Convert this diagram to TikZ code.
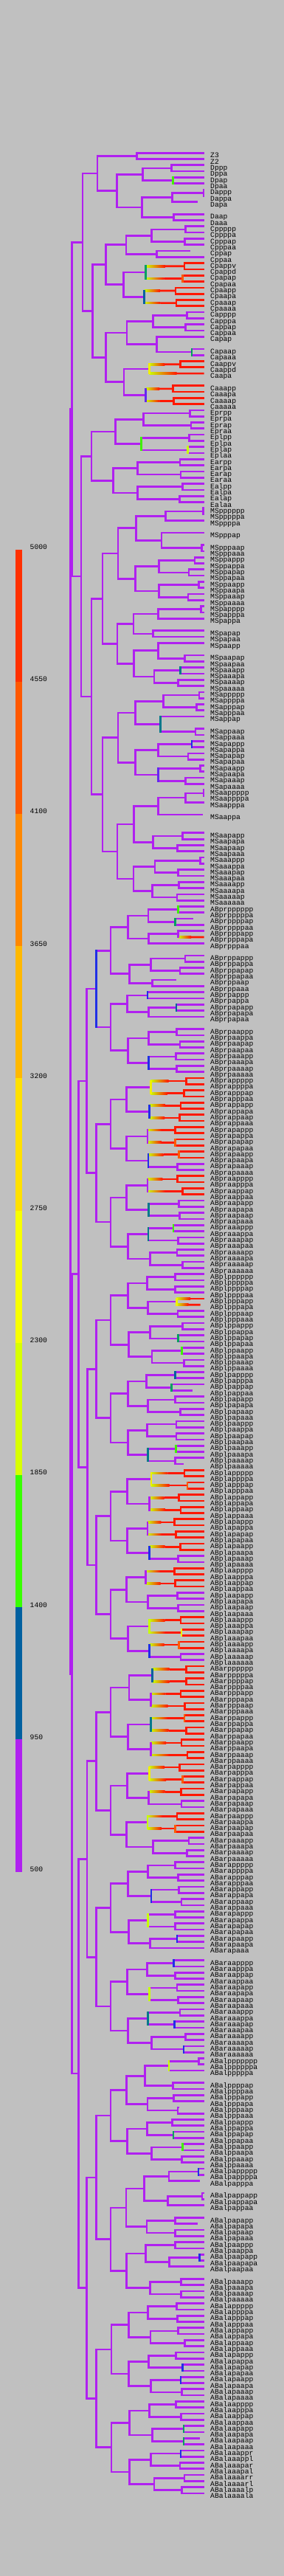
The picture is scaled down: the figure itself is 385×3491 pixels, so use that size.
\documentclass[tikz,border=0pt]{standalone}
\usepackage{fontspec}
\setmonofont{Liberation Mono}
\usetikzlibrary{calc}

\definecolor{bgc}{RGB}{192,192,192}
\definecolor{cpu}{RGB}{176,32,240}
\definecolor{crd}{RGB}{255,24,0}
\definecolor{cor}{RGB}{255,90,0}
\definecolor{cyl}{RGB}{240,240,0}
\definecolor{cyg}{RGB}{200,255,0}
\definecolor{cgn}{RGB}{64,240,0}
\definecolor{ctl}{RGB}{0,160,96}
\definecolor{cbl}{RGB}{0,96,160}
\definecolor{cbb}{RGB}{32,48,230}
\definecolor{ctt}{RGB}{0,120,140}
\definecolor{cvb}{RGB}{100,40,240}
\definecolor{lga}{RGB}{255,48,0}
\definecolor{lgb}{RGB}{255,88,0}
\definecolor{lgc}{RGB}{255,136,0}
\definecolor{lgd}{RGB}{255,184,0}
\definecolor{lge}{RGB}{255,224,0}
\definecolor{lgf}{RGB}{248,255,0}
\definecolor{lgg}{RGB}{216,255,0}
\definecolor{lgh}{RGB}{56,255,0}
\definecolor{lgi}{RGB}{0,96,160}
\definecolor{lgj}{RGB}{176,32,240}

\tikzset{
  br/.style={draw=cpu, line width=2.7pt},
  vt/.style={line width=2.7pt, line cap=rect},
  lbl/.style={anchor=base west, inner sep=0pt, text=black,
    font=\ttfamily\fontsize{9.7}{10}\selectfont}
}

\newtoks\vtoks
% leaf: [incoming style]{name}{slot}[end x]
\NewDocumentCommand\lfc{O{p} m m O{276.7}}{%
  \pgfmathsetmacro\yy{207.2+8.303*#3}%
  \expandafter\xdef\csname cy-#2\endcsname{\yy}%
  \expandafter\xdef\csname cs-#2\endcsname{#1}%
  \coordinate (#2) at (#4,\yy);
  \node[lbl] (t-#2) at (285,{\yy+6.7}) {#2};
}
% division: [incoming style][vertical colour]{name}{x}{upper}{lower}
\NewDocumentCommand\dvc{O{p} O{cpu} m m m m}{%
  \pgfmathsetmacro\yy{(\csname cy-#5\endcsname+\csname cy-#6\endcsname)/2}%
  \expandafter\xdef\csname cy-#3\endcsname{\yy}%
  \expandafter\xdef\csname cs-#3\endcsname{#1}%
  \coordinate (#3) at (#4,\yy);
  \hzc{#5}{#3}\hzc{#6}{#3}%
  \global\vtoks\expandafter{\the\vtoks\draw[vt,draw=#2] (#5 -| #3) -- (#6 -| #3);}%
}
\newcommand\hzc[2]{\csname hz\csname cs-#1\endcsname\endcsname{#1}{#2}}
\newcommand\hzp[2]{\draw[br] (#1 -| #2) -- (#1);}
\newcommand\hzr[2]{\draw[br,draw=crd] (#1 -| #2) -- (#1);}
\newcommand\hzg[2]{%
  \coordinate (h0) at (#1 -| #2);
  \coordinate (h1) at ($(h0)!0.5!(#1)$);
  \path[left color=cyg, right color=crd] ([yshift=1.35pt]h0) rectangle ([yshift=-1.35pt]h1);
  \draw[br,draw=crd] (h1) -- (#1);
}

\begin{document}
\begin{tikzpicture}[x=1pt,y=-1pt]
\fill[bgc] (0,0) rectangle (385,3491);
\path[use as bounding box] (0,0) rectangle (385,3491);

% colour key
\foreach \c [count=\i from 0] in {lga,lgb,lgc,lgd,lge,lgf,lgg,lgh,lgi,lgj}
  \fill[\c] (21,{744.5+179.2*\i}) rectangle (30,{744.5+179.2*(\i+1)});
\foreach \v [count=\i from 0] in {5000,4550,4100,3650,3200,2750,2300,1850,1400,950,500}
  \node[lbl] (v\v) at (40.5,{744.5+179.2*\i}) {\v};

% P4 and D
\lfc{Z3}{0}\lfc{Z2}{1}\dvc{P4}{185.7}{Z3}{Z2}
\lfc{Dppp}{2}\lfc{Dppa}{3}\dvc{Dpp}{232.3}{Dppp}{Dppa}
\lfc{Dpap}{4}\lfc{Dpaa}{5}\dvc[p][cgn]{Dpa}{234.3}{Dpap}{Dpaa}
\dvc{Dp}{193.3}{Dpp}{Dpa}
\lfc{Dappp}{6}\lfc{Dappa}{7}\dvc{Dapp}{276}{Dappp}{Dappa}
\lfc{Dapa}{8}[267.7]\dvc{Dap}{233.3}{Dapp}{Dapa}
\lfc{Daap}{10}\lfc{Daaa}{11}\dvc{Daa}{235.7}{Daap}{Daaa}
\dvc{Da}{192.7}{Dap}{Daa}
\dvc{D}{158.7}{Dp}{Da}
\dvc{P3}{132}{P4}{D}
% C
\lfc{Cppppp}{12}\lfc{Cppppa}{13}\dvc{Cpppp}{251.7}{Cppppp}{Cppppa}
\lfc{Cpppap}{14}\lfc{Cpppaa}{15}\dvc{Cpppa}{250.3}{Cpppap}{Cpppaa}
\dvc{Cppp}{205.7}{Cpppp}{Cpppa}
\lfc{Cppap}{16}[257.7]\lfc{Cppaa}{17}\dvc{Cppa}{212.3}{Cppap}{Cppaa}
\dvc{Cpp}{171}{Cppp}{Cppa}
\lfc[r]{Cpappv}{18}\lfc[r]{Cpappd}{19}\dvc[g][crd]{Cpapp}{250}{Cpappv}{Cpappd}
\lfc[r]{Cpapap}{20}\lfc[r]{Cpapaa}{21}\dvc[g][cor]{Cpapa}{247.7}{Cpapap}{Cpapaa}
\dvc[p][ctl]{Cpap}{197.7}{Cpapp}{Cpapa}
\lfc[r]{Cpaapp}{22}\lfc[r]{Cpaapa}{23}\dvc[g][crd]{Cpaap}{238}{Cpaapp}{Cpaapa}
\lfc[r]{Cpaaap}{24}\lfc[r]{Cpaaaa}{25}\dvc[g][crd]{Cpaaa}{239}{Cpaaap}{Cpaaaa}
\dvc[p][cbl]{Cpaa}{195.7}{Cpaap}{Cpaaa}
\dvc{Cpa}{167.7}{Cpap}{Cpaa}
\dvc{Cp}{143.7}{Cpp}{Cpa}
\lfc{Capppp}{26}\lfc{Capppa}{27}\dvc{Cappp}{253.3}{Capppp}{Capppa}
\lfc{Cappap}{28}\lfc{Cappaa}{29}\dvc{Cappa}{251.7}{Cappap}{Cappaa}
\dvc{Capp}{207.7}{Cappp}{Cappa}
\lfc{Capap}{30}\lfc{Capaap}{32}\lfc{Capaaa}{33}\dvc[p][ctl]{Capaa}{260}{Capaap}{Capaaa}
\dvc{Capa}{212.7}{Capap}{Capaa}
\dvc{Cap}{172}{Capp}{Capa}
\lfc[r]{Caappv}{34}\lfc[r]{Caappd}{35}\dvc[g][crd]{Caapp}{244.3}{Caappv}{Caappd}
\lfc[g]{Caapa}{36}\dvc[p][cyl]{Caap}{202.3}{Caapp}{Caapa}
\lfc[r]{Caaapp}{38}\lfc[r]{Caaapa}{39}\dvc[g][crd]{Caaap}{234.3}{Caaapp}{Caaapa}
\lfc[r]{Caaaap}{40}\lfc[r]{Caaaaa}{41}\dvc[g][crd]{Caaaa}{235.7}{Caaaap}{Caaaaa}
\dvc[p][cvb]{Caaa}{197.7}{Caaap}{Caaaa}
\dvc{Caa}{168}{Caap}{Caaa}
\dvc{Ca}{143.7}{Cap}{Caa}
\dvc{C}{125.7}{Cp}{Ca}
\dvc{P2}{112}{P3}{C}
% E
\lfc{Eprpp}{42}\lfc{Eprpa}{43}\dvc{Eprp}{257.3}{Eprpp}{Eprpa}
\lfc{Eprap}{44}\lfc{Epraa}{45}\dvc{Epra}{259}{Eprap}{Epraa}
\dvc{Epr}{194.3}{Eprp}{Epra}
\lfc{Eplpp}{46}\lfc{Eplpa}{47}\dvc{Eplp}{256.7}{Eplpp}{Eplpa}
\lfc{Eplap}{48}\lfc{Eplaa}{49}\dvc[p][cyg]{Epla}{254.3}{Eplap}{Eplaa}
\dvc[p][cgn]{Epl}{191.7}{Eplp}{Epla}
\dvc{Ep}{156.7}{Epr}{Epl}
\lfc{Earpp}{50}\lfc{Earpa}{51}\dvc{Earp}{244}{Earpp}{Earpa}
\lfc{Earap}{52}\lfc{Earaa}{53}\dvc{Eara}{245}{Earap}{Earaa}
\dvc{Ear}{186.7}{Earp}{Eara}
\lfc{Ealpp}{54}\lfc{Ealpa}{55}\dvc{Ealp}{247.3}{Ealpp}{Ealpa}
\lfc{Ealap}{56}\lfc{Ealaa}{57}\dvc{Eala}{243.3}{Ealap}{Ealaa}
\dvc{Eal}{186.7}{Ealp}{Eala}
\dvc{Ea}{153.3}{Ear}{Eal}
\dvc{E}{124}{Ep}{Ea}
% MS
\lfc{MSpppppp}{58}\lfc{MSpppppa}{59}\dvc{MSppppp}{275.3}{MSpppppp}{MSpppppa}
\lfc{MSppppa}{60}\dvc{MSpppp}{224.3}{MSppppp}{MSppppa}
\lfc{MSpppap}{62}\lfc{MSpppaap}{64}\lfc{MSpppaaa}{65}\dvc{MSpppaa}{273.3}{MSpppaap}{MSpppaaa}
\dvc{MSpppa}{219}{MSpppap}{MSpppaa}
\dvc{MSppp}{184.3}{MSpppp}{MSpppa}
\lfc{MSppappp}{66}\lfc{MSppappa}{67}\dvc{MSppapp}{264}{MSppappp}{MSppappa}
\lfc{MSppapap}{68}\lfc{MSppapaa}{69}\dvc{MSppapa}{256}{MSppapap}{MSppapaa}
\dvc{MSppap}{215.7}{MSppapp}{MSppapa}
\lfc{MSppaapp}{70}\lfc{MSppaapa}{71}\dvc{MSppaap}{269.3}{MSppaapp}{MSppaapa}
\lfc{MSppaaap}{72}\lfc{MSppaaaa}{73}\dvc{MSppaaa}{255}{MSppaaap}{MSppaaaa}
\dvc{MSppaa}{215.7}{MSppaap}{MSppaaa}
\dvc{MSppa}{183.7}{MSppap}{MSppaa}
\dvc{MSpp}{160}{MSppp}{MSppa}
\lfc{MSpapppp}{74}\lfc{MSpapppa}{75}\dvc{MSpappp}{272.7}{MSpapppp}{MSpapppa}
\lfc{MSpappa}{76}\dvc{MSpapp}{214.3}{MSpappp}{MSpappa}
\lfc{MSpapap}{78}\lfc{MSpapaa}{79}\dvc{MSpapa}{207.7}{MSpapap}{MSpapaa}
\dvc{MSpap}{181}{MSpapp}{MSpapa}
\lfc{MSpaapp}{80}\lfc{MSpaapap}{82}\lfc{MSpaapaa}{83}\dvc{MSpaapa}{250.7}{MSpaapap}{MSpaapaa}
\dvc{MSpaap}{214.3}{MSpaapp}{MSpaapa}
\lfc{MSpaaapp}{84}\lfc{MSpaaapa}{85}\dvc[p][ctt]{MSpaaap}{244.3}{MSpaaapp}{MSpaaapa}
\lfc{MSpaaaap}{86}\lfc{MSpaaaaa}{87}\dvc{MSpaaaa}{241.7}{MSpaaaap}{MSpaaaaa}
\dvc{MSpaaa}{209}{MSpaaap}{MSpaaaa}
\dvc{MSpaa}{181.7}{MSpaap}{MSpaaa}
\dvc{MSpa}{159}{MSpap}{MSpaa}
\dvc{MSp}{139}{MSpp}{MSpa}
\lfc{MSappppp}{88}\lfc{MSappppa}{89}\dvc{MSapppp}{270}{MSappppp}{MSappppa}
\lfc{MSapppap}{90}\lfc{MSapppaa}{91}\dvc{MSapppa}{266.7}{MSapppap}{MSapppaa}
\dvc{MSappp}{221.7}{MSapppp}{MSapppa}
\lfc{MSappap}{92}\lfc{MSappaap}{94}\lfc{MSappaaa}{95}\dvc{MSappaa}{265}{MSappaap}{MSappaaa}
\dvc[p][ctt]{MSappa}{217.7}{MSappap}{MSappaa}
\dvc{MSapp}{183.3}{MSappp}{MSappa}
\lfc{MSapappp}{96}\lfc{MSapappa}{97}\dvc[p][cbb]{MSapapp}{260}{MSapappp}{MSapappa}
\lfc{MSapapap}{98}\lfc{MSapapaa}{99}\dvc{MSapapa}{255}{MSapapap}{MSapapaa}
\dvc{MSapap}{214.3}{MSapapp}{MSapapa}
\lfc{MSapaapp}{100}\lfc{MSapaapa}{101}\dvc{MSapaap}{271.7}{MSapaapp}{MSapaapa}
\lfc{MSapaaap}{102}\lfc{MSapaaaa}{103}\dvc{MSapaaa}{251.7}{MSapaaap}{MSapaaaa}
\dvc[p][cvb]{MSapaa}{214.3}{MSapaap}{MSapaaa}
\dvc{MSapa}{183.3}{MSapap}{MSapaa}
\dvc{MSap}{160}{MSapp}{MSapa}
\lfc{MSaappppp}{104}\lfc{MSaappppa}{105}\dvc{MSaapppp}{276}{MSaappppp}{MSaappppa}
\lfc{MSaapppa}{106}\dvc{MSaappp}{251.7}{MSaapppp}{MSaapppa}
\lfc{MSaappa}{108}[275]\dvc{MSaapp}{214.3}{MSaappp}{MSaappa}
\lfc{MSaapapp}{111}\lfc{MSaapapa}{112}\dvc{MSaapap}{247.3}{MSaapapp}{MSaapapa}
\lfc{MSaapaap}{113}\lfc{MSaapaaa}{114}\dvc{MSaapaa}{240.7}{MSaapaap}{MSaapaaa}
\dvc{MSaapa}{207.7}{MSaapap}{MSaapaa}
\dvc{MSaap}{181.7}{MSaapp}{MSaapa}
\lfc{MSaaappp}{115}\lfc{MSaaappa}{116}\dvc{MSaaapp}{271.7}{MSaaappp}{MSaaappa}
\lfc{MSaaapap}{117}\lfc{MSaaapaa}{118}\dvc{MSaaapa}{241.7}{MSaaapap}{MSaaapaa}
\dvc{MSaaap}{210}{MSaaapp}{MSaaapa}
\lfc{MSaaaapp}{119}\lfc{MSaaaapa}{120}\dvc{MSaaaap}{242.7}{MSaaaapp}{MSaaaapa}
\lfc{MSaaaaap}{121}\lfc{MSaaaaaa}{122}\dvc{MSaaaaa}{240}{MSaaaaap}{MSaaaaaa}
\dvc{MSaaaa}{206.7}{MSaaaap}{MSaaaaa}
\dvc{MSaaa}{181}{MSaaap}{MSaaaa}
\dvc{MSaa}{159}{MSaap}{MSaaa}
\dvc{MSa}{139}{MSap}{MSaa}
\dvc{MS}{124}{MSp}{MSa}
\dvc{EMS}{110}{E}{MS}
\dvc{P1}{97.3}{P2}{EMS}
% ABpr
\lfc{ABprpppppp}{123}\lfc{ABprpppppa}{124}\dvc[p][cgn]{ABprppppp}{241.7}{ABprpppppp}{ABprpppppa}
\lfc{ABprppppap}{125}[261.7]\lfc{ABprppppaa}{126}\dvc[p][ctl]{ABprppppa}{237.7}{ABprppppap}{ABprppppaa}
\dvc{ABprpppp}{201}{ABprppppp}{ABprppppa}
\lfc{ABprpppapp}{127}\lfc[g]{ABprpppapa}{128}\dvc{ABprpppap}{241.7}{ABprpppapp}{ABprpppapa}
\lfc{ABprpppaa}{129}\dvc{ABprpppa}{201.7}{ABprpppap}{ABprpppaa}
\dvc{ABprppp}{173.3}{ABprpppp}{ABprpppa}
\lfc{ABprppappp}{131}\lfc{ABprppappa}{132}\dvc{ABprppapp}{251}{ABprppappp}{ABprppappa}
\lfc{ABprppapap}{133}\lfc{ABprppapaa}{134}\dvc{ABprppapa}{244}{ABprppapap}{ABprppapaa}
\dvc{ABprppap}{204.3}{ABprppapp}{ABprppapa}
\lfc{ABprppaap}{135}[239.3]\lfc{ABprppaaa}{136}\dvc{ABprppaa}{206.7}{ABprppaap}{ABprppaaa}
\dvc{ABprppa}{175.7}{ABprppap}{ABprppaa}
\dvc{ABprpp}{150}{ABprppp}{ABprppa}
\lfc{ABprpappp}{137}\lfc{ABprpappa}{138}\dvc[p][cbb]{ABprpapp}{200}{ABprpappp}{ABprpappa}
\lfc{ABprpapapp}{139}\lfc{ABprpapapa}{140}\dvc[p][cbl]{ABprpapap}{239}{ABprpapapp}{ABprpapapa}
\lfc{ABprpapaa}{141}\dvc{ABprpapa}{201.7}{ABprpapap}{ABprpapaa}
\dvc{ABprpap}{172.3}{ABprpapp}{ABprpapa}
\lfc{ABprpaappp}{143}\lfc{ABprpaappa}{144}\dvc{ABprpaapp}{239.3}{ABprpaappp}{ABprpaappa}
\lfc{ABprpaapap}{145}\lfc{ABprpaapaa}{146}\dvc{ABprpaapa}{244}{ABprpaapap}{ABprpaapaa}
\dvc{ABprpaap}{201.7}{ABprpaapp}{ABprpaapa}
\lfc{ABprpaaapp}{147}\lfc{ABprpaaapa}{148}\dvc{ABprpaaap}{238.3}{ABprpaaapp}{ABprpaaapa}
\lfc{ABprpaaaap}{149}\lfc{ABprpaaaaa}{150}\dvc{ABprpaaaa}{239.3}{ABprpaaaap}{ABprpaaaaa}
\dvc[p][cbb]{ABprpaaa}{201.7}{ABprpaaap}{ABprpaaaa}
\dvc{ABprpaa}{173.3}{ABprpaap}{ABprpaaa}
\dvc{ABprpa}{150}{ABprpap}{ABprpaa}
\dvc[p][cbb]{ABprp}{130.7}{ABprpp}{ABprpa}
\lfc[r]{ABprappppp}{151}\lfc[r]{ABprappppa}{152}\dvc[g][crd]{ABprapppp}{252.7}{ABprappppp}{ABprappppa}
\lfc[r]{ABprapppap}{153}\lfc[r]{ABprapppaa}{154}\dvc[g][crd]{ABprapppa}{249.3}{ABprapppap}{ABprapppaa}
\dvc[p][cyl]{ABprappp}{204.3}{ABprapppp}{ABprapppa}
\lfc[r]{ABprappapp}{155}\lfc[r]{ABprappapa}{156}\dvc[g][crd]{ABprappap}{245}{ABprappapp}{ABprappapa}
\lfc[r]{ABprappaap}{157}\lfc[r]{ABprappaaa}{158}\dvc[g][crd]{ABprappaa}{243.3}{ABprappaap}{ABprappaaa}
\dvc[p][cbb]{ABprappa}{202.7}{ABprappap}{ABprappaa}
\dvc{ABprapp}{171.7}{ABprappp}{ABprappa}
\lfc[r]{ABprapappp}{159}\lfc[r]{ABprapappa}{160}\dvc[g][crd]{ABprapapp}{237.7}{ABprapappp}{ABprapappa}
\lfc[r]{ABprapapap}{161}\lfc[r]{ABprapapaa}{162}\dvc[g][cor]{ABprapapa}{237.7}{ABprapapap}{ABprapapaa}
\dvc{ABprapap}{200}{ABprapapp}{ABprapapa}
\lfc[r]{ABprapaapp}{163}\lfc[r]{ABprapaapa}{164}\dvc[g][cor]{ABprapaap}{242.3}{ABprapaapp}{ABprapaapa}
\lfc{ABprapaaap}{165}\lfc{ABprapaaaa}{166}\dvc{ABprapaaa}{240.7}{ABprapaaap}{ABprapaaaa}
\dvc[p][cbb]{ABprapaa}{201}{ABprapaap}{ABprapaaa}
\dvc{ABprapa}{171.7}{ABprapap}{ABprapaa}
\dvc{ABprap}{150}{ABprapp}{ABprapa}
\lfc[r]{ABpraapppp}{167}\lfc[r]{ABpraapppa}{168}\dvc[g][crd]{ABpraappp}{240.7}{ABpraapppp}{ABpraapppa}
\lfc[r]{ABpraappap}{169}\lfc[r]{ABpraappaa}{170}\dvc[g][crd]{ABpraappa}{247.7}{ABpraappap}{ABpraappaa}
\dvc{ABpraapp}{200}{ABpraappp}{ABpraappa}
\lfc{ABpraapapp}{171}\lfc{ABpraapapa}{172}\dvc{ABpraapap}{242.7}{ABpraapapp}{ABpraapapa}
\lfc{ABpraapaap}{173}\lfc{ABpraapaaa}{174}\dvc{ABpraapaa}{243.3}{ABpraapaap}{ABpraapaaa}
\dvc[p][ctt]{ABpraapa}{201.7}{ABpraapap}{ABpraapaa}
\dvc{ABpraap}{171.7}{ABpraapp}{ABpraapa}
\lfc{ABpraaappp}{175}\lfc{ABpraaappa}{176}\dvc[p][cgn]{ABpraaapp}{235}{ABpraaappp}{ABpraaappa}
\lfc{ABpraaapap}{177}\lfc{ABpraaapaa}{178}\dvc{ABpraaapa}{241.7}{ABpraaapap}{ABpraaapaa}
\dvc[p][ctt]{ABpraaap}{201}{ABpraaapp}{ABpraaapa}
\lfc{ABpraaaapp}{179}\lfc{ABpraaaapa}{180}\dvc{ABpraaaap}{240}{ABpraaaapp}{ABpraaaapa}
\lfc{ABpraaaaap}{181}\lfc{ABpraaaaaa}{182}\dvc{ABpraaaaa}{247.7}{ABpraaaaap}{ABpraaaaaa}
\dvc{ABpraaaa}{203.3}{ABpraaaap}{ABpraaaaa}
\dvc{ABpraaa}{173.3}{ABpraaap}{ABpraaaa}
\dvc{ABpraa}{150}{ABpraap}{ABpraaa}
\dvc{ABpra}{130.7}{ABprap}{ABpraa}
\dvc{ABpr}{117.7}{ABprp}{ABpra}
% ABpl
\lfc{ABplpppppp}{183}\lfc{ABplpppppa}{184}\dvc{ABplppppp}{237.7}{ABplpppppp}{ABplpppppa}
\lfc{ABplppppap}{185}\lfc{ABplppppaa}{186}\dvc{ABplppppa}{237.7}{ABplppppap}{ABplppppaa}
\dvc{ABplpppp}{199.3}{ABplppppp}{ABplppppa}
\lfc[g]{ABplpppapp}{187}\lfc[g]{ABplpppapa}{188}[271.7]\dvc[p][cyl]{ABplpppap}{239.3}{ABplpppapp}{ABplpppapa}
\lfc{ABplpppaap}{189}\lfc{ABplpppaaa}{190}\dvc{ABplpppaa}{241}{ABplpppaap}{ABplpppaaa}
\dvc{ABplpppa}{200.7}{ABplpppap}{ABplpppaa}
\dvc{ABplppp}{173.3}{ABplpppp}{ABplpppa}
\lfc{ABplppappp}{191}\lfc{ABplppappa}{192}\dvc{ABplppapp}{247.7}{ABplppappp}{ABplppappa}
\lfc{ABplppapap}{193}\lfc{ABplppapaa}{194}\dvc[p][ctl]{ABplppapa}{241.7}{ABplppapap}{ABplppapaa}
\dvc{ABplppap}{203.3}{ABplppapp}{ABplppapa}
\lfc{ABplppaapp}{195}\lfc{ABplppaapa}{196}\dvc[p][cgn]{ABplppaap}{246.7}{ABplppaapp}{ABplppaapa}
\lfc{ABplppaaap}{197}\lfc{ABplppaaaa}{198}\dvc{ABplppaaa}{249.3}{ABplppaaap}{ABplppaaaa}
\dvc{ABplppaa}{206}{ABplppaap}{ABplppaaa}
\dvc{ABplppa}{174.3}{ABplppap}{ABplppaa}
\dvc{ABplpp}{150}{ABplppp}{ABplppa}
\lfc{ABplpapppp}{199}\lfc{ABplpapppa}{200}\dvc[p][cbl]{ABplpappp}{237.7}{ABplpapppp}{ABplpapppa}
\lfc{ABplpappap}{201}\lfc{ABplpappaa}{202}[260.7]\dvc[p][ctl]{ABplpappa}{232.7}{ABplpappap}{ABplpappaa}
\dvc{ABplpapp}{198.3}{ABplpappp}{ABplpappa}
\lfc{ABplpapapp}{203}\lfc{ABplpapapa}{204}\dvc{ABplpapap}{237.7}{ABplpapapp}{ABplpapapa}
\lfc{ABplpapaap}{205}\lfc{ABplpapaaa}{206}\dvc{ABplpapaa}{244.3}{ABplpapaap}{ABplpapaaa}
\dvc{ABplpapa}{200.7}{ABplpapap}{ABplpapaa}
\dvc{ABplpap}{173.3}{ABplpapp}{ABplpapa}
\lfc{ABplpaappp}{207}\lfc{ABplpaappa}{208}\dvc{ABplpaapp}{239}{ABplpaappp}{ABplpaappa}
\lfc{ABplpaapap}{209}\lfc{ABplpaapaa}{210}\dvc{ABplpaapa}{239}{ABplpaapap}{ABplpaapaa}
\dvc{ABplpaap}{199.3}{ABplpaapp}{ABplpaapa}
\lfc{ABplpaaapp}{211}\lfc{ABplpaaapa}{212}\dvc[p][cgn]{ABplpaaap}{238.3}{ABplpaaapp}{ABplpaaapa}
\lfc{ABplpaaaap}{213}\lfc{ABplpaaaaa}{214}[249]\dvc{ABplpaaaa}{237.7}{ABplpaaaap}{ABplpaaaaa}
\dvc[p][ctt]{ABplpaaa}{200.7}{ABplpaaap}{ABplpaaaa}
\dvc{ABplpaa}{173.3}{ABplpaap}{ABplpaaa}
\dvc{ABplpa}{150}{ABplpap}{ABplpaa}
\dvc{ABplp}{130.7}{ABplpp}{ABplpa}
\lfc[r]{ABplappppp}{215}\lfc[r]{ABplappppa}{216}\dvc[g][crd]{ABplapppp}{250}{ABplappppp}{ABplappppa}
\lfc[r]{ABplapppap}{217}\lfc[r]{ABplapppaa}{218}\dvc[g][cor]{ABplapppa}{254}{ABplapppap}{ABplapppaa}
\dvc[p][cyl]{ABplappp}{205}{ABplapppp}{ABplapppa}
\lfc[r]{ABplappapp}{219}\lfc[r]{ABplappapa}{220}\dvc[g][crd]{ABplappap}{242.7}{ABplappapp}{ABplappapa}
\lfc[r]{ABplappaap}{221}\lfc[r]{ABplappaaa}{222}\dvc[g][crd]{ABplappaa}{245}{ABplappaap}{ABplappaaa}
\dvc{ABplappa}{202.7}{ABplappap}{ABplappaa}
\dvc{ABplapp}{172.7}{ABplappp}{ABplappa}
\lfc[r]{ABplapappp}{223}\lfc[r]{ABplapappa}{224}\dvc[g][crd]{ABplapapp}{236.7}{ABplapappp}{ABplapappa}
\lfc[r]{ABplapapap}{225}\lfc[r]{ABplapapaa}{226}\dvc[g][crd]{ABplapapa}{238.3}{ABplapapap}{ABplapapaa}
\dvc{ABplapap}{200}{ABplapapp}{ABplapapa}
\lfc[r]{ABplapaapp}{227}\lfc[r]{ABplapaapa}{228}\dvc[g][crd]{ABplapaap}{244.3}{ABplapaapp}{ABplapaapa}
\lfc{ABplapaaap}{229}\lfc{ABplapaaaa}{230}\dvc{ABplapaaa}{241.7}{ABplapaaap}{ABplapaaaa}
\dvc[p][cbb]{ABplapaa}{202.7}{ABplapaap}{ABplapaaa}
\dvc{ABplapa}{172.7}{ABplapap}{ABplapaa}
\dvc{ABplap}{150}{ABplapp}{ABplapa}
\lfc[r]{ABplaapppp}{231}\lfc[r]{ABplaapppa}{232}\dvc[g][crd]{ABplaappp}{236.7}{ABplaapppp}{ABplaapppa}
\lfc[r]{ABplaappap}{233}\lfc[r]{ABplaappaa}{234}\dvc[g][crd]{ABplaappa}{237.7}{ABplaappap}{ABplaappaa}
\dvc{ABplaapp}{197.7}{ABplaappp}{ABplaappa}
\lfc{ABplaapapp}{235}\lfc{ABplaapapa}{236}\dvc{ABplaapap}{240.7}{ABplaapapp}{ABplaapapa}
\lfc{ABplaapaap}{237}\lfc{ABplaapaaa}{238}\dvc{ABplaapaa}{241.7}{ABplaapaap}{ABplaapaaa}
\dvc{ABplaapa}{200.7}{ABplaapap}{ABplaapaa}
\dvc{ABplaap}{171.7}{ABplaapp}{ABplaapa}
\lfc[r]{ABplaaappp}{239}\lfc[r]{ABplaaappa}{240}\dvc[g][crd]{ABplaaapp}{245}{ABplaaappp}{ABplaaappa}
\lfc[r]{ABplaaapap}{241}\lfc[r]{ABplaaapaa}{242}\dvc[g][cyl]{ABplaaapa}{246}{ABplaaapap}{ABplaaapaa}
\dvc[p][cyg]{ABplaaap}{202.3}{ABplaaapp}{ABplaaapa}
\lfc[r]{ABplaaaapp}{243}\lfc[r]{ABplaaaapa}{244}\dvc[g][cor]{ABplaaaap}{242.7}{ABplaaaapp}{ABplaaaapa}
\lfc{ABplaaaaap}{245}\lfc{ABplaaaaaa}{246}\dvc{ABplaaaaa}{245}{ABplaaaaap}{ABplaaaaaa}
\dvc[p][cbb]{ABplaaaa}{202.7}{ABplaaaap}{ABplaaaaa}
\dvc{ABplaaa}{173.3}{ABplaaap}{ABplaaaa}
\dvc{ABplaa}{150}{ABplaap}{ABplaaa}
\dvc{ABpla}{130.7}{ABplap}{ABplaa}
\dvc{ABpl}{118.3}{ABplp}{ABpla}
\dvc{ABp}{106.7}{ABpr}{ABpl}
% ABar
\lfc[r]{ABarpppppp}{247}\lfc[r]{ABarpppppa}{248}\dvc[g][crd]{ABarppppp}{252.7}{ABarpppppp}{ABarpppppa}
\lfc[r]{ABarppppap}{249}\lfc[r]{ABarppppaa}{250}\dvc[g][crd]{ABarppppa}{252.7}{ABarppppap}{ABarppppaa}
\dvc[p][cbl]{ABarpppp}{206.7}{ABarppppp}{ABarppppa}
\lfc[r]{ABarpppapp}{251}\lfc[r]{ABarpppapa}{252}\dvc[g][crd]{ABarpppap}{245}{ABarpppapp}{ABarpppapa}
\lfc[r]{ABarpppaap}{253}\lfc[r]{ABarpppaaa}{254}\dvc[g][crd]{ABarpppaa}{250.7}{ABarpppaap}{ABarpppaaa}
\dvc{ABarpppa}{204.3}{ABarpppap}{ABarpppaa}
\dvc{ABarppp}{175}{ABarpppp}{ABarpppa}
\lfc[r]{ABarppappp}{255}\lfc[r]{ABarppappa}{256}\dvc[g][cor]{ABarppapp}{250}{ABarppappp}{ABarppappa}
\lfc[r]{ABarppapap}{257}\lfc[r]{ABarppapaa}{258}\dvc[g][crd]{ABarppapa}{252.7}{ABarppapap}{ABarppapaa}
\dvc[p][ctt]{ABarppap}{204.3}{ABarppapp}{ABarppapa}
\lfc[r]{ABarppaapp}{259}\lfc[r]{ABarppaapa}{260}\dvc[g][crd]{ABarppaap}{246}{ABarppaapp}{ABarppaapa}
\lfc[r]{ABarppaaap}{261}\lfc[r]{ABarppaaaa}{262}\dvc[g][crd]{ABarppaaa}{254}{ABarppaaap}{ABarppaaaa}
\dvc{ABarppaa}{204.3}{ABarppaap}{ABarppaaa}
\dvc{ABarppa}{173.3}{ABarppap}{ABarppaa}
\dvc{ABarpp}{150}{ABarppp}{ABarppa}
\lfc[r]{ABarpapppp}{263}\lfc[r]{ABarpapppa}{264}\dvc[g][crd]{ABarpappp}{243.3}{ABarpapppp}{ABarpapppa}
\lfc[r]{ABarpappap}{265}\lfc[r]{ABarpappaa}{266}\dvc[g][cor]{ABarpappa}{247.7}{ABarpappap}{ABarpappaa}
\dvc[p][cyl]{ABarpapp}{202.3}{ABarpappp}{ABarpappa}
\lfc[r]{ABarpapapp}{267}\lfc[r]{ABarpapapa}{268}\dvc[g][crd]{ABarpapap}{245.7}{ABarpapapp}{ABarpapapa}
\lfc{ABarpapaap}{269}\lfc{ABarpapaaa}{270}\dvc{ABarpapaa}{246}{ABarpapaap}{ABarpapaaa}
\dvc{ABarpapa}{201.7}{ABarpapap}{ABarpapaa}
\dvc{ABarpap}{172.7}{ABarpapp}{ABarpapa}
\lfc[r]{ABarpaappp}{271}\lfc[r]{ABarpaappa}{272}\dvc[g][crd]{ABarpaapp}{240}{ABarpaappp}{ABarpaappa}
\lfc[r]{ABarpaapap}{273}\lfc[r]{ABarpaapaa}{274}\dvc[g][cor]{ABarpaapa}{237.7}{ABarpaapap}{ABarpaapaa}
\dvc[p][cyg]{ABarpaap}{200}{ABarpaapp}{ABarpaapa}
\lfc{ABarpaaapp}{275}\lfc{ABarpaaapa}{276}\dvc{ABarpaaap}{256}{ABarpaaapp}{ABarpaaapa}
\lfc{ABarpaaaap}{277}\lfc{ABarpaaaaa}{278}\dvc{ABarpaaaa}{253.3}{ABarpaaaap}{ABarpaaaaa}
\dvc{ABarpaaa}{207.7}{ABarpaaap}{ABarpaaaa}
\dvc{ABarpaa}{171.7}{ABarpaap}{ABarpaaa}
\dvc{ABarpa}{150}{ABarpap}{ABarpaa}
\dvc{ABarp}{130.7}{ABarpp}{ABarpa}
\lfc{ABarappppp}{279}\lfc{ABarappppa}{280}\dvc{ABarapppp}{237.7}{ABarappppp}{ABarappppa}
\lfc{ABarapppap}{281}\lfc{ABarapppaa}{282}\dvc{ABarapppa}{241.7}{ABarapppap}{ABarapppaa}
\dvc{ABarappp}{200.7}{ABarapppp}{ABarapppa}
\lfc{ABarappapp}{283}\lfc{ABarappapa}{284}\dvc{ABarappap}{242.7}{ABarappapp}{ABarappapa}
\lfc{ABarappaap}{285}\lfc{ABarappaaa}{286}\dvc{ABarappaa}{246}{ABarappaap}{ABarappaaa}
\dvc[p][cbb]{ABarappa}{205}{ABarappap}{ABarappaa}
\dvc{ABarapp}{173.3}{ABarappp}{ABarappa}
\lfc{ABarapappp}{287}\lfc{ABarapappa}{288}\dvc{ABarapapp}{237.7}{ABarapappp}{ABarapappa}
\lfc{ABarapapap}{289}\lfc{ABarapapaa}{290}\dvc{ABarapapa}{237.7}{ABarapapap}{ABarapapaa}
\dvc[p][cyg]{ABarapap}{200.7}{ABarapapp}{ABarapapa}
\lfc{ABarapaapp}{291}\lfc{ABarapaapa}{292}\dvc[p][cbb]{ABarapaap}{240}{ABarapaapp}{ABarapaapa}
\lfc{ABarapaaa}{293}\dvc{ABarapaa}{203.3}{ABarapaap}{ABarapaaa}
\dvc{ABarapa}{174.3}{ABarapap}{ABarapaa}
\dvc{ABarap}{150}{ABarapp}{ABarapa}
\lfc{ABaraapppp}{295}\lfc{ABaraapppa}{296}\dvc[p][cbb]{ABaraappp}{235.7}{ABaraapppp}{ABaraapppa}
\lfc{ABaraappap}{297}\lfc{ABaraappaa}{298}\dvc{ABaraappa}{237.7}{ABaraappap}{ABaraappaa}
\dvc{ABaraapp}{199.3}{ABaraappp}{ABaraappa}
\lfc{ABaraapapp}{299}\lfc{ABaraapapa}{300}\dvc{ABaraapap}{240}{ABaraapapp}{ABaraapapa}
\lfc{ABaraapaap}{301}\lfc{ABaraapaaa}{302}\dvc{ABaraapaa}{241.7}{ABaraapaap}{ABaraapaaa}
\dvc[p][cyg]{ABaraapa}{202.3}{ABaraapap}{ABaraapaa}
\dvc{ABaraap}{172.7}{ABaraapp}{ABaraapa}
\lfc{ABaraaappp}{303}\lfc{ABaraaappa}{304}\dvc{ABaraaapp}{244}{ABaraaappp}{ABaraaappa}
\lfc{ABaraaapap}{305}\lfc{ABaraaapaa}{306}\dvc[p][cbb]{ABaraaapa}{236.7}{ABaraaapap}{ABaraaapaa}
\dvc[p][ctt]{ABaraaap}{200.7}{ABaraaapp}{ABaraaapa}
\lfc{ABaraaaapp}{307}\lfc{ABaraaaapa}{308}\dvc{ABaraaaap}{251.7}{ABaraaaapp}{ABaraaaapa}
\lfc{ABaraaaaap}{309}\lfc{ABaraaaaaa}{310}\dvc[p][cbb]{ABaraaaaa}{249}{ABaraaaaap}{ABaraaaaaa}
\dvc{ABaraaaa}{205.7}{ABaraaaap}{ABaraaaaa}
\dvc{ABaraaa}{173.3}{ABaraaap}{ABaraaaa}
\dvc{ABaraa}{150}{ABaraap}{ABaraaa}
\dvc{ABara}{130.7}{ABarap}{ABaraa}
\dvc{ABar}{118}{ABarp}{ABara}
% ABal
\lfc{ABalppppppp}{311}\lfc{ABalppppppa}{312}\dvc{ABalpppppp}{269.3}{ABalppppppp}{ABalppppppa}
\lfc{ABalpppppa}{313}\dvc[p][cyg]{ABalppppp}{229}{ABalpppppp}{ABalpppppa}
\lfc{ABalppppap}{315}\lfc{ABalppppaa}{316}\dvc{ABalppppa}{234.3}{ABalppppap}{ABalppppaa}
\dvc{ABalpppp}{196.7}{ABalppppp}{ABalppppa}
\lfc{ABalpppapp}{317}\lfc{ABalpppapa}{318}\dvc{ABalpppap}{235.7}{ABalpppapp}{ABalpppapa}
\lfc{ABalpppaap}{319}[243]\lfc{ABalpppaaa}{320}\dvc{ABalpppaa}{241}{ABalpppaap}{ABalpppaaa}
\dvc{ABalpppa}{200}{ABalpppap}{ABalpppaa}
\dvc{ABalppp}{171.7}{ABalpppp}{ABalpppa}
\lfc{ABalppappp}{321}\lfc{ABalppappa}{322}\dvc{ABalppapp}{233.3}{ABalppappp}{ABalppappa}
\lfc{ABalppapap}{323}\lfc{ABalppapaa}{324}\dvc[p][ctl]{ABalppapa}{235}{ABalppapap}{ABalppapaa}
\dvc{ABalppap}{199.3}{ABalppapp}{ABalppapa}
\lfc{ABalppaapp}{325}\lfc{ABalppaapa}{326}\dvc[p][cgn]{ABalppaap}{247.7}{ABalppaapp}{ABalppaapa}
\lfc{ABalppaaap}{327}\lfc{ABalppaaaa}{328}\dvc{ABalppaaa}{246.7}{ABalppaaap}{ABalppaaaa}
\dvc{ABalppaa}{205.7}{ABalppaap}{ABalppaaa}
\dvc{ABalppa}{172.7}{ABalppap}{ABalppaa}
\dvc{ABalpp}{150}{ABalppp}{ABalppa}
\lfc{ABalpappppp}{329}\lfc{ABalpappppa}{330}\dvc[p][cbb]{ABalpapppp}{269}{ABalpappppp}{ABalpappppa}
\lfc{ABalpapppa}{331}[270.7]\dvc{ABalpappp}{229}{ABalpapppp}{ABalpapppa}
\lfc{ABalpappapp}{333}\lfc{ABalpappapa}{334}\dvc{ABalpappap}{274}{ABalpappapp}{ABalpappapa}
\lfc{ABalpappaa}{335}\dvc{ABalpappa}{227.7}{ABalpappap}{ABalpappaa}
\dvc{ABalpapp}{195.7}{ABalpappp}{ABalpappa}
\lfc{ABalpapapp}{337}\lfc{ABalpapapa}{338}[267.7]\dvc{ABalpapap}{237.7}{ABalpapapp}{ABalpapapa}
\lfc{ABalpapaap}{339}\lfc{ABalpapaaa}{340}\dvc{ABalpapaa}{237.7}{ABalpapaap}{ABalpapaaa}
\dvc{ABalpapa}{199}{ABalpapap}{ABalpapaa}
\dvc{ABalpap}{171}{ABalpapp}{ABalpapa}
\lfc{ABalpaappp}{341}\lfc{ABalpaappa}{342}\dvc{ABalpaapp}{237.7}{ABalpaappp}{ABalpaappa}
\lfc{ABalpaapapp}{343}\lfc{ABalpaapapa}{344}\dvc[p][cbb]{ABalpaapap}{270.7}{ABalpaapapp}{ABalpaapapa}
\lfc{ABalpaapaa}{345}\dvc{ABalpaapa}{229.3}{ABalpaapap}{ABalpaapaa}
\dvc{ABalpaap}{197.7}{ABalpaapp}{ABalpaapa}
\lfc{ABalpaaapp}{347}\lfc{ABalpaaapa}{348}\dvc{ABalpaaap}{245.7}{ABalpaaapp}{ABalpaaapa}
\lfc{ABalpaaaap}{349}\lfc{ABalpaaaaa}{350}\dvc{ABalpaaaa}{245.7}{ABalpaaaap}{ABalpaaaaa}
\dvc{ABalpaaa}{203.3}{ABalpaaap}{ABalpaaaa}
\dvc{ABalpaa}{171.7}{ABalpaap}{ABalpaaa}
\dvc{ABalpa}{150}{ABalpap}{ABalpaa}
\dvc{ABalp}{130.7}{ABalpp}{ABalpa}
\lfc{ABalappppp}{351}\lfc{ABalappppa}{352}\dvc{ABalapppp}{239.3}{ABalappppp}{ABalappppa}
\lfc{ABalapppap}{353}\lfc{ABalapppaa}{354}\dvc{ABalapppa}{240.7}{ABalapppap}{ABalapppaa}
\dvc{ABalappp}{200.7}{ABalapppp}{ABalapppa}
\lfc{ABalappapp}{355}\lfc{ABalappapa}{356}\dvc{ABalappap}{241.7}{ABalappapp}{ABalappapa}
\lfc{ABalappaap}{357}\lfc{ABalappaaa}{358}\dvc{ABalappaa}{250.7}{ABalappaap}{ABalappaaa}
\dvc{ABalappa}{204}{ABalappap}{ABalappaa}
\dvc{ABalapp}{174.3}{ABalappp}{ABalappa}
\lfc{ABalapappp}{359}\lfc{ABalapappa}{360}\dvc{ABalapapp}{238.3}{ABalapappp}{ABalapappa}
\lfc{ABalapapap}{361}\lfc{ABalapapaa}{362}\dvc[p][cbb]{ABalapapa}{247.7}{ABalapapap}{ABalapapaa}
\dvc{ABalapap}{201.7}{ABalapapp}{ABalapapa}
\lfc{ABalapaapp}{363}\lfc{ABalapaapa}{364}\dvc[p][cbb]{ABalapaap}{245}{ABalapaapp}{ABalapaapa}
\lfc{ABalapaaap}{365}\lfc{ABalapaaaa}{366}\dvc{ABalapaaa}{246.7}{ABalapaaap}{ABalapaaaa}
\dvc{ABalapaa}{204.3}{ABalapaap}{ABalapaaa}
\dvc{ABalapa}{174.3}{ABalapap}{ABalapaa}
\dvc{ABalap}{151}{ABalapp}{ABalapa}
\lfc{ABalaapppp}{367}\lfc{ABalaapppa}{368}\dvc{ABalaappp}{238.3}{ABalaapppp}{ABalaapppa}
\lfc{ABalaappap}{369}\lfc{ABalaappaa}{370}\dvc{ABalaappa}{245.7}{ABalaappap}{ABalaappaa}
\dvc{ABalaapp}{202.3}{ABalaappp}{ABalaappa}
\lfc{ABalaapapp}{371}\lfc{ABalaapapa}{372}\dvc[p][ctl]{ABalaapap}{249}{ABalaapapp}{ABalaapapa}
\lfc{ABalaapaap}{373}[270.7]\lfc{ABalaapaaa}{374}\dvc[p][ctl]{ABalaapaa}{249}{ABalaapaap}{ABalaapaaa}
\dvc{ABalaapa}{206.7}{ABalaapap}{ABalaapaa}
\dvc{ABalaap}{175.7}{ABalaapp}{ABalaapa}
\lfc{ABalaaappr}{375}\lfc{ABalaaappl}{376}\dvc[p][cbb]{ABalaaapp}{245}{ABalaaappr}{ABalaaappl}
\lfc{ABalaaapar}{377}\lfc{ABalaaapal}{378}\dvc{ABalaaapa}{244}{ABalaaapar}{ABalaaapal}
\dvc{ABalaaap}{204.3}{ABalaaapp}{ABalaaapa}
\lfc{ABalaaaarr}{379}\lfc{ABalaaaarl}{380}\dvc{ABalaaaar}{250}{ABalaaaarr}{ABalaaaarl}
\lfc{ABalaaaalp}{381}\lfc{ABalaaaala}{382}\dvc{ABalaaaal}{246.7}{ABalaaaalp}{ABalaaaala}
\dvc{ABalaaaa}{209}{ABalaaaar}{ABalaaaal}
\dvc{ABalaaa}{175.7}{ABalaaap}{ABalaaaa}
\dvc{ABalaa}{151}{ABalaap}{ABalaaa}
\dvc{ABala}{130.7}{ABalap}{ABalaa}
\dvc{ABal}{117.7}{ABalp}{ABala}
\dvc{ABa}{106.3}{ABar}{ABal}
\dvc{AB}{97.3}{ABp}{ABa}
\dvc{P0}{95.7}{P1}{AB}
% division lines on top
\the\vtoks
\end{tikzpicture}
\end{document}
